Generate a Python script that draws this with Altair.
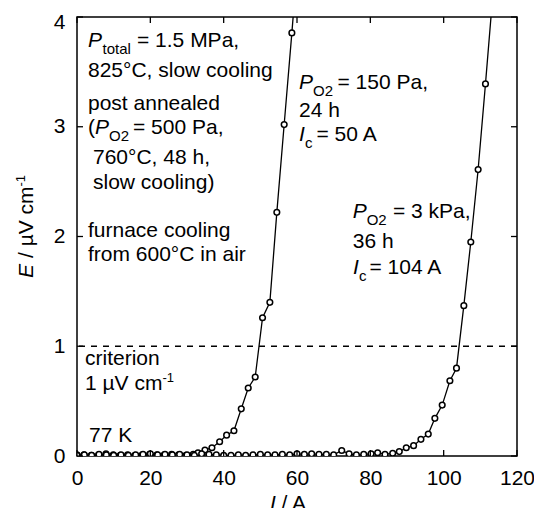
import altair as alt
import pandas as pd

# ---- data ----
# curve "PO2 = 150 Pa, 24 h, Ic = 50 A"
I1 = [0.0, 1.9, 3.9, 5.9, 7.9, 9.9, 11.8, 13.8, 15.8, 17.8, 19.8, 21.8, 23.8, 25.8,
      27.7, 29.7, 31.7, 33.0, 34.9, 36.8, 38.9, 40.8, 42.8, 44.8, 46.7, 48.6, 50.6,
      52.6, 54.5, 56.5, 58.6, 60.6]
E1 = [0.01, 0.01, 0.005, 0.01, 0.02, 0.01, 0.005, 0.01, 0.005, 0.01, 0.015, 0.01,
      0.01, 0.015, 0.01, 0.005, 0.015, 0.03, 0.055, 0.075, 0.13, 0.19, 0.23, 0.43,
      0.62, 0.72, 1.26, 1.40, 2.22, 3.02, 3.855, 4.70]
# curve "PO2 = 3 kPa, 36 h, Ic = 104 A"
I2 = [0, 2, 4, 6, 8, 10, 12, 14, 16, 18, 20, 22, 24, 26, 28, 30, 32, 34, 36, 38,
      40, 42, 44, 46, 48, 50, 52, 54, 56, 58, 60, 62, 64, 66, 68, 70, 72.2, 74.2,
      76.2, 78.2, 80.2, 82.0, 84.0, 86.1, 87.9, 89.8, 91.8, 93.8, 95.8, 97.6, 99.6,
      101.7, 103.5, 105.5, 107.4, 109.4, 111.4, 113.4]
E2 = [0.005, 0.01, 0.005, 0.015, 0.01, 0.005, 0.01, 0.005, 0.01, 0.015, 0.02, 0.01,
      0.015, 0.01, 0.015, 0.01, 0.005, 0.02, 0.015, 0.01, 0.005, 0.005, 0.01, 0.005,
      0.01, 0.015, 0.01, 0.01, 0.015, 0.01, 0.02, 0.015, 0.02, 0.015, 0.015, 0.01,
      0.05, 0.02, 0.01, 0.015, 0.02, 0.03, 0.015, 0.025, 0.04, 0.075, 0.094, 0.152,
      0.20, 0.343, 0.464, 0.686, 0.80, 1.37, 1.95, 2.61, 3.39, 4.20]
X_TICKS = [0, 20, 40, 60, 80, 100, 120]
Y_TICKS = [0, 1, 2, 3, 4]
CRITERION = [1.0]

W, H = 440, 439
FONT = "Liberation Sans"
PAD_L, PAD_T = 69, 9
PX_PER_A = W / 120.0
PX_PER_E = H / 4.0


def dx(px):  # page pixel -> current (A)
    return (px - 8 - PAD_L) / PX_PER_A


def dy(py):  # page pixel -> field (uV/cm)
    return (8 + PAD_T + H - py) / PX_PER_E


# text pieces: (text, page x, page baseline y, font size, italic, angle)
pieces = [
    ("P", 88, 47, 21, True, 0), ("total", 102.5, 54, 15, False, 0),
    ("= 1.5 MPa,", 137, 47, 21, False, 0),
    ("825°C, slow cooling", 88, 77, 21, False, 0),
    ("post annealed", 88, 110, 21, False, 0),
    ("(", 88, 134, 21, False, 0), ("P", 95, 134, 21, True, 0),
    ("O2", 109, 141, 15, False, 0), ("= 500 Pa,", 133, 134, 21, False, 0),
    ("760°C, 48 h,", 93, 164, 21, False, 0),
    ("slow cooling)", 93, 189, 21, False, 0),
    ("furnace cooling", 88, 237, 21, False, 0),
    ("from 600°C in air", 88, 261, 21, False, 0),
    ("P", 299, 89, 21, True, 0), ("O2", 313, 96, 15, False, 0),
    ("= 150 Pa,", 337.5, 89, 21, False, 0),
    ("24 h", 299, 117, 21, False, 0),
    ("I", 299, 141, 21, True, 0), ("c", 305, 148, 15, False, 0),
    ("= 50 A", 316.5, 141, 21, False, 0),
    ("P", 352.7, 218, 21, True, 0), ("O2", 366.7, 225, 15, False, 0),
    ("= 3 kPa,", 393, 218, 21, False, 0),
    ("36 h", 352.7, 248, 21, False, 0),
    ("I", 353, 274, 21, True, 0), ("c", 359, 281, 15, False, 0),
    ("= 104 A", 369.5, 274, 21, False, 0),
    ("criterion", 85, 365, 21, False, 0),
    ("1 µV cm", 85, 390, 21, False, 0), ("-1", 162.5, 382, 13, False, 0),
    ("77 K", 89, 442, 21, False, 0),
    # axis titles
    ("E", 33, 278, 21, True, 270), ("/ µV cm", 33, 258, 21, False, 270),
    ("-1", 25, 186.5, 13, False, 270),
    ("I", 270, 510, 21, True, 0), ("/ A", 281.5, 510, 21, False, 0),
]
txt = pd.DataFrame([{"t": p[0], "x": dx(p[1]), "y": dy(p[2]), "fs": p[3],
                     "it": p[4], "a": p[5]} for p in pieces])

curves = pd.concat([
    pd.DataFrame({"I": I1, "E": E1, "s": "150 Pa"}),
    pd.DataFrame({"I": I2, "E": E2, "s": "3 kPa"}),
], ignore_index=True)

xs = alt.Scale(domain=[0, 120], nice=False, zero=False)
ys = alt.Scale(domain=[0, 4], nice=False, zero=False)

x_axis = alt.Axis(values=X_TICKS, ticks=False, tickSize=0, domain=False, grid=False,
                  labelFont=FONT, labelFontSize=21, labelColor="black",
                  labelPadding=11, title=None, labelFlush=False)
y_axis = alt.Axis(values=Y_TICKS, ticks=False, tickSize=0, domain=False, grid=False,
                  labelFont=FONT, labelFontSize=21, labelColor="black",
                  labelPadding=12, title=None,
                  labelOffset={"condition": {"test": "datum.value === 4", "value": 5},
                               "value": 0})


def X(field):
    return alt.X(field, scale=xs, axis=x_axis)


def Y(field):
    return alt.Y(field, scale=ys, axis=y_axis)


lines = alt.Chart(curves).mark_line(color="black", strokeWidth=1.3, clip=True).encode(
    x=X("I:Q"), y=Y("E:Q"), detail="s:N", order="I:Q",
)
points = alt.Chart(curves).mark_point(
    shape="circle", size=32, filled=True, fill="white", stroke="black",
    strokeWidth=1.5, opacity=1, fillOpacity=1, clip=True
).encode(x=X("I:Q"), y=Y("E:Q"))
crit = alt.Chart(pd.DataFrame({"E": CRITERION})).mark_rule(
    color="black", strokeWidth=1.3, strokeDash=[6, 6]
).encode(y=Y("E:Q"))

xt = pd.DataFrame({"t": X_TICKS})
yt = pd.DataFrame({"t": Y_TICKS})
tick_style = dict(color="black", strokeWidth=1.3)
bottom_ticks = alt.Chart(xt).mark_rule(**tick_style).encode(
    x=X("t:Q"), y=alt.value(H), y2=alt.value(H - 6))
top_ticks = alt.Chart(xt).mark_rule(**tick_style).encode(
    x=X("t:Q"), y=alt.value(0), y2=alt.value(6))
left_ticks = alt.Chart(yt).mark_rule(**tick_style).encode(
    y=Y("t:Q"), x=alt.value(0), x2=alt.value(6))
right_ticks = alt.Chart(yt).mark_rule(**tick_style).encode(
    y=Y("t:Q"), x=alt.value(W - 6), x2=alt.value(W))


def text_layer(italic):
    return alt.Chart(txt[txt["it"] == italic]).mark_text(
        align="left", baseline="alphabetic", font=FONT, color="black",
        fontStyle="italic" if italic else "normal"
    ).encode(
        x=X("x:Q"), y=Y("y:Q"),
        text="t:N",
        size=alt.Size("fs:Q", scale=None),
        angle=alt.Angle("a:Q", scale=None),
    )


chart = alt.layer(
    crit, lines, points, bottom_ticks, top_ticks, left_ticks, right_ticks,
    text_layer(False), text_layer(True)
).properties(
    width=W, height=H,
    autosize=alt.AutoSizeParams(type="none"),
    padding={"left": PAD_L, "top": PAD_T, "right": 17, "bottom": 52},
    background="white",
).configure_view(stroke="black", strokeWidth=1.5)

chart.save("out.html", embed_options={"renderer": "svg", "actions": False})
